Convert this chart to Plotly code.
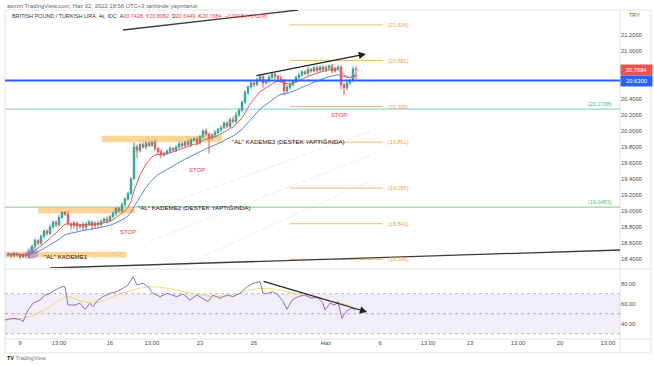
import plotly.graph_objects as go
import pandas as pd

# ---------------- data ----------------
closes = [18.46, 18.44, 18.47, 18.45, 18.43, 18.46, 18.44, 18.48, 18.56, 18.63,
          18.60, 18.68, 18.75, 18.72, 18.80, 18.86, 18.83, 18.92, 18.98, 18.96,
          18.84, 18.82, 18.85, 18.81, 18.83, 18.80, 18.84, 18.86, 18.82, 18.85,
          18.83, 18.87, 18.90, 18.88, 18.93, 18.97, 19.03, 19.00, 19.08, 19.15,
          19.22, 19.40, 19.80, 19.76, 19.83, 19.80, 19.85, 19.82, 19.86, 19.78,
          19.74, 19.70, 19.72, 19.75, 19.78, 19.76, 19.80, 19.84, 19.82, 19.86,
          19.83, 19.89, 19.90, 19.85, 19.93, 20.00, 19.96, 19.92, 19.95, 19.98,
          20.02, 20.04, 20.10, 20.06, 20.14, 20.12, 20.20, 20.26, 20.36, 20.48,
          20.55, 20.60, 20.58, 20.64, 20.68, 20.60, 20.63, 20.67, 20.71, 20.68,
          20.66, 20.63, 20.50, 20.55, 20.58, 20.62, 20.67, 20.70, 20.74, 20.72,
          20.77, 20.75, 20.79, 20.76, 20.80, 20.77, 20.79, 20.81, 20.75, 20.78,
          20.80, 20.58, 20.54, 20.60, 20.63, 20.7732, 20.7684]
first_open = 18.45
# wick lengths in hundredths of a lira
wick_up = [2, 1, 2, 1, 2, 1, 2, 3, 2, 3,
           2, 3, 2, 2, 3, 2, 2, 3, 2, 2,
           4, 2, 3, 2, 2, 3, 2, 3, 2, 2,
           3, 2, 2, 3, 2, 3, 2, 2, 3, 2,
           2, 2, 6, 3, 2, 3, 2, 2, 2, 3,
           2, 3, 2, 2, 3, 2, 2, 3, 2, 2,
           3, 2, 2, 3, 2, 2, 3, 2, 2, 3,
           2, 3, 2, 2, 3, 4, 4, 3, 2, 3,
           2, 3, 2, 3, 3, 2, 2, 3, 2, 2,
           2, 3, 2, 2, 3, 2, 2, 3, 2, 2,
           3, 2, 2, 3, 2, 2, 3, 2, 3, 2,
           2, 2, 2, 3, 2, 3, 3.5]
wick_dn = [2, 3, 2, 2, 3, 2, 3, 4, 2, 2,
           3, 2, 2, 3, 2, 2, 3, 2, 2, 2,
           2, 5, 4, 6, 4, 5, 4, 3, 6, 4,
           4, 3, 2, 3, 2, 2, 3, 2, 2, 2,
           2, 2, 0, 10, 3, 2, 3, 2, 2, 3,
           3, 4, 2, 2, 3, 2, 2, 2, 3, 2,
           2, 3, 2, 3, 2, 2, 2, 20, 3, 2,
           2, 3, 2, 3, 2, 2, 3, 2, 2, 2,
           3, 2, 3, 2, 2, 6, 2, 3, 2, 3,
           2, 3, 5, 2, 3, 2, 2, 3, 2, 2,
           3, 2, 2, 3, 2, 2, 3, 3, 3, 2,
           2, 6, 9, 3, 2, 2, 12.4]

rsi_x = [-1, 1.7, 4, 5, 6.7, 8.3, 10.7, 12.3, 14, 15.7, 18, 19, 20, 22.3, 24, 25.7,
         27.3, 28.3, 30, 31.7, 34, 36.3, 38.3, 40, 41.7, 43, 45, 46.7, 48.3, 50.7,
         53, 54.7, 56.3, 58.3, 60.7, 63, 65, 66.7, 68.3, 70.7, 73, 75, 77.3, 79.7,
         81.7, 84, 85, 86.7, 88.3, 90, 91.7, 93, 94.7, 96.7, 99, 101.3, 103, 104.7,
         105.7, 107.3, 109, 110, 111.3, 112.3, 113.3, 114.7, 115.7]
rsi_v = [43.7, 45.4, 44.4, 42, 53.7, 60.4, 63.7, 68.7, 70.4, 73.7, 77, 77, 58.7, 58.7,
         60.4, 54.4, 60.4, 57, 63.7, 67, 70.4, 72, 75.4, 78.7, 87, 78.7, 80.4, 77,
         70.4, 67, 70.4, 68.7, 67, 69.7, 63.7, 68.7, 65.4, 62, 68.7, 65.4, 68.7, 67,
         70.4, 77, 80.4, 82, 70.4, 70.4, 72, 68.7, 62, 54.4, 63.7, 67, 68.7, 65.4,
         67, 62, 53.7, 60.4, 58.7, 62, 45.4, 50.4, 53.7, 55.4, 53.7]
rsi_ma_x = [-0.3, 7.3, 14, 19.7, 25, 30.7, 36.3, 41.7, 47.3, 53, 58.3, 64, 69.7,
            75, 80.7, 85, 90.7, 97.3, 103, 108.3, 114]
rsi_ma_v = [43.7, 47, 57, 67, 62, 62, 68.7, 73.7, 77, 75.4, 72, 68.7, 67,
            68.7, 73.7, 75.4, 73.7, 68.7, 65.4, 62, 58.7]

tick_pos = [4, 17, 34, 48, 64, 82, 106, 124, 140, 154, 170, 184, 200]
tick_text = ["9", "13:00", "16", "13:00", "23", "26", "Haz", "6", "13:00", "13",
             "13:00", "20", "13:00"]
price_ticks = [18.4, 18.6, 18.8, 19.0, 19.2, 19.4, 19.6, 19.8, 20.0, 20.2, 20.4, 21.0, 21.2]
rsi_ticks = [40, 60, 80]
fib_levels = [21.326, 20.881, 20.306, 19.861, 19.286, 18.841, 18.396]
last_price = 20.7684
blue_level = 20.63
teal_level = 20.2738
green_level = 19.0483

# ---------------- derived ----------------
bars = list(range(len(closes)))
opens = [first_open] + closes[:-1]
highs = [max(o, c) + u / 100 for o, c, u in zip(opens, closes, wick_up)]
lows = [min(o, c) - d / 100 for o, c, d in zip(opens, closes, wick_dn)]
s = pd.Series(closes)
ema_fast = s.ewm(span=9, adjust=False).mean()
ema_slow = s.ewm(span=21, adjust=False).mean()

X0, X1 = -1, 204
PX0, PX1, PY0, PY1 = 5, 620, 10, 338


def px(x):
    return (x - PX0) / (PX1 - PX0)


def py(y):
    return (PY1 - y) / (PY1 - PY0)


FONT = "Liberation Sans"
fig = go.Figure()

fig.add_trace(go.Candlestick(
    x=bars, open=opens, high=highs, low=lows, close=closes,
    increasing=dict(line=dict(color="#26a69a", width=1), fillcolor="#26a69a"),
    decreasing=dict(line=dict(color="#ef5350", width=1), fillcolor="#ef5350"),
    whiskerwidth=0, xaxis="x", yaxis="y", hoverinfo="skip", showlegend=False))
fig.add_trace(go.Scatter(x=bars, y=ema_slow, mode="lines", line=dict(color="#5b86ea", width=1),
                         xaxis="x", yaxis="y", hoverinfo="skip", showlegend=False))
fig.add_trace(go.Scatter(x=bars, y=ema_fast, mode="lines", line=dict(color="#f05350", width=1),
                         xaxis="x", yaxis="y", hoverinfo="skip", showlegend=False))
fig.add_trace(go.Scatter(x=rsi_ma_x, y=rsi_ma_v, mode="lines",
                         line=dict(color="rgba(245,205,60,0.7)", width=1, shape="spline"),
                         xaxis="x2", yaxis="y2", hoverinfo="skip", showlegend=False))
fig.add_trace(go.Scatter(x=rsi_x, y=rsi_v, mode="lines", line=dict(color="#8a72cc", width=1),
                         xaxis="x2", yaxis="y2", hoverinfo="skip", showlegend=False))

shapes = []
ann = []

# RSI band and levels
shapes.append(dict(type="rect", xref="x2", yref="y2", x0=X0, x1=X1, y0=30, y1=70,
                   fillcolor="rgba(126,87,194,0.10)", line=dict(width=0), layer="below"))
for lv in (30, 50, 70):
    shapes.append(dict(type="line", xref="x2", yref="y2", x0=X0, x1=X1, y0=lv, y1=lv,
                       line=dict(color="rgba(120,123,134,0.55)", width=1, dash="dot"), layer="below"))

# faint fan lines
for (a, b, c, d) in [(54, 19.10, 121, 20.0), (47, 18.62, 121, 19.70), (57, 18.30, 121, 19.38)]:
    shapes.append(dict(type="line", xref="x", yref="y", x0=a, y0=b, x1=c, y1=d,
                       line=dict(color="rgba(200,202,210,0.28)", width=1), layer="below"))

# horizontal levels
shapes.append(dict(type="line", xref="x", yref="y", x0=X0, x1=X1, y0=teal_level, y1=teal_level,
                   line=dict(color="#80cbc4", width=1), layer="below"))
shapes.append(dict(type="line", xref="x", yref="y", x0=X0, x1=X1, y0=green_level, y1=green_level,
                   line=dict(color="#81c784", width=1), layer="below"))
shapes.append(dict(type="line", xref="x", yref="y", x0=X0, x1=X1, y0=blue_level, y1=blue_level,
                   line=dict(color="#2962ff", width=2), layer="above"))

# fib levels
for lv in fib_levels:
    shapes.append(dict(type="line", xref="x", yref="y", x0=94, x1=125, y0=lv, y1=lv,
                       line=dict(color="rgba(245,160,70,0.75)", width=1), layer="below"))
    ann.append(dict(x=126, y=lv, xref="x", yref="y", text="(%.3f)" % lv, showarrow=False,
                    xanchor="left", yanchor="middle", font=dict(size=5.5, color="#f0a050", family=FONT)))

# orange zones
for (a, b, c, d) in [(-1, 39.3, 18.42, 18.49), (10, 42.3, 18.97, 19.04), (31.3, 71.3, 19.86, 19.94)]:
    shapes.append(dict(type="rect", xref="x", yref="y", x0=a, x1=b, y0=c, y1=d,
                       fillcolor="rgba(255,176,70,0.55)", line=dict(width=0), layer="below"))

# circle marker
shapes.append(dict(type="circle", xref="x", yref="y", x0=6, x1=10, y0=18.40, y1=18.55,
                   fillcolor="rgba(110,120,200,0.45)", line=dict(width=0), layer="above"))

# black trend lines
shapes.append(dict(type="line", xref="x", yref="y", x0=14, y0=18.2875, x1=204, y1=18.5125,
                   line=dict(color="#3a3a3a", width=1.3), layer="above"))
shapes.append(dict(type="line", xref="x", yref="y", x0=38.3, y0=21.2625, x1=96.7, y1=21.5125,
                   line=dict(color="#3a3a3a", width=1.3), layer="above"))

# arrows
ann.append(dict(x=119.3, y=20.9625, ax=82.3, ay=20.6875, xref="x", yref="y", axref="x", ayref="y",
                showarrow=True, arrowhead=2, arrowsize=1.2, arrowwidth=1.2, arrowcolor="#222", text=""))
ann.append(dict(x=119.7, y=51.7, ax=84.7, ay=82.7, xref="x2", yref="y2", axref="x2", ayref="y2",
                showarrow=True, arrowhead=2, arrowsize=1.2, arrowwidth=1.2, arrowcolor="#222", text=""))

# text labels
lab_font = dict(size=6.2, color="#131722", family=FONT)
ann.append(dict(x=px(42), y=py(256), xref="paper", yref="paper", text='"AL" KADEME1', showarrow=False,
                xanchor="left", yanchor="middle", font=lab_font))
ann.append(dict(x=px(136), y=py(207.5), xref="paper", yref="paper", text='"AL" KADEME2 (DESTEK YAPTIĞINDA)',
                showarrow=False, xanchor="left", yanchor="middle", font=lab_font))
ann.append(dict(x=px(230), y=py(141), xref="paper", yref="paper", text='"AL" KADEME3 (DESTEK YAPTIĞINDA)',
                showarrow=False, xanchor="left", yanchor="middle", font=lab_font))
for (a, b) in [(128, 232), (197, 170), (339, 115)]:
    ann.append(dict(x=px(a), y=py(b), xref="paper", yref="paper", text="STOP", showarrow=False,
                    xanchor="center", yanchor="middle", font=dict(size=6, color="#f23645", family=FONT)))

ann.append(dict(x=px(614), y=teal_level, xref="paper", yref="y", text="(%.4f)" % teal_level, showarrow=False,
                xanchor="right", yanchor="bottom", yshift=0, font=dict(size=5.5, color="#4db6ac", family=FONT)))
ann.append(dict(x=px(614), y=green_level, xref="paper", yref="y", text="(%.4f)" % green_level, showarrow=False,
                xanchor="right", yanchor="bottom", font=dict(size=5.5, color="#66bb6a", family=FONT)))

# price labels on the axis
ann.append(dict(x=px(636), y=last_price, xref="paper", yref="y", text="%.4f" % last_price, showarrow=False,
                bgcolor="#ef5350", width=29, height=8, font=dict(size=5.8, color="white", family=FONT),
                xanchor="center", yanchor="middle"))
ann.append(dict(x=px(636), y=blue_level, xref="paper", yref="y", text="%.4f" % blue_level, showarrow=False,
                bgcolor="#2962ff", width=29, height=8, font=dict(size=5.8, color="white", family=FONT),
                xanchor="center", yanchor="middle"))
ann.append(dict(x=px(627), y=py(15), xref="paper", yref="paper", text="TRY", showarrow=False,
                xanchor="left", yanchor="middle", font=dict(size=5.5, color="#555", family=FONT)))

# header
ann.append(dict(x=px(5), y=py(5.5), xref="paper", yref="paper",
                text="asmm TradingView.com, Haz 02, 2022 18:56 UTC+3 tarihinde yayınlandı",
                showarrow=False, xanchor="left", yanchor="middle", font=dict(size=5.9, color="#666", family=FONT)))
red = "#f23645"
hdr = ("BRITISH POUND / TURKISH LIRA, 4s, IDC &nbsp;"
       "A<span style='color:%s'>20.7428</span> &nbsp;Y<span style='color:%s'>20.8082</span> "
       "&nbsp;D<span style='color:%s'>20.6449</span> &nbsp;K<span style='color:%s'>20.7684 &nbsp;−0.0048 (−0.02%%)</span>"
       % (red, red, red, red))
ann.append(dict(x=px(10), y=py(16), xref="paper", yref="paper", text=hdr, showarrow=False,
                xanchor="left", yanchor="middle", font=dict(size=5.4, color="#333", family=FONT)))
ann.append(dict(x=px(5), y=py(358), xref="paper", yref="paper",
                text="<b>TV</b> <span style='color:#777'>TradingView</span>", showarrow=False,
                xanchor="left", yanchor="middle", font=dict(size=5.5, color="#131722", family=FONT)))

# frame lines
frame = "#e0e3eb"
for (a, b, c, d) in [(5, 10, 651, 10), (5, 269, 651, 269), (5, 339, 651, 339), (5, 353, 651, 353),
                     (620, 10, 620, 353), (651, 10, 651, 353), (5, 10, 5, 353)]:
    shapes.append(dict(type="line", xref="paper", yref="paper", x0=px(a), y0=py(b), x1=px(c), y1=py(d),
                       line=dict(color=frame, width=1), layer="below"))

tickfont = dict(size=5.8, color="#4a4a4a", family=FONT)
fig.update_layout(
    width=654, height=366,
    margin=dict(l=5, r=34, t=10, b=28),
    paper_bgcolor="white", plot_bgcolor="white",
    showlegend=False, hovermode=False,
    xaxis=dict(domain=[0, 1], range=[X0, X1], anchor="y", showticklabels=False, showgrid=False,
               zeroline=False, rangeslider=dict(visible=False), matches="x2"),
    xaxis2=dict(domain=[0, 1], range=[X0, X1], anchor="y2", tickmode="array", tickvals=tick_pos,
                ticktext=tick_text, tickfont=tickfont, showgrid=False, zeroline=False, ticks=""),
    yaxis=dict(domain=[70 / 328, 1], range=[18.2875, 21.5125], side="right", anchor="x",
               tickmode="array", tickvals=price_ticks, ticktext=["%.4f" % v for v in price_ticks],
               tickfont=tickfont, showgrid=False, zeroline=False, ticks=""),
    yaxis2=dict(domain=[0, 68 / 328], range=[25.7, 93.7], side="right", anchor="x2",
                tickmode="array", tickvals=rsi_ticks, ticktext=["%.2f" % v for v in rsi_ticks],
                tickfont=tickfont, showgrid=False, zeroline=False, ticks=""),
    shapes=shapes, annotations=ann,
    font=dict(family=FONT),
)

fig.write_html("out.html", config={"displayModeBar": False},
               post_script="document.body.style.margin='0';document.body.style.overflow='hidden';")
